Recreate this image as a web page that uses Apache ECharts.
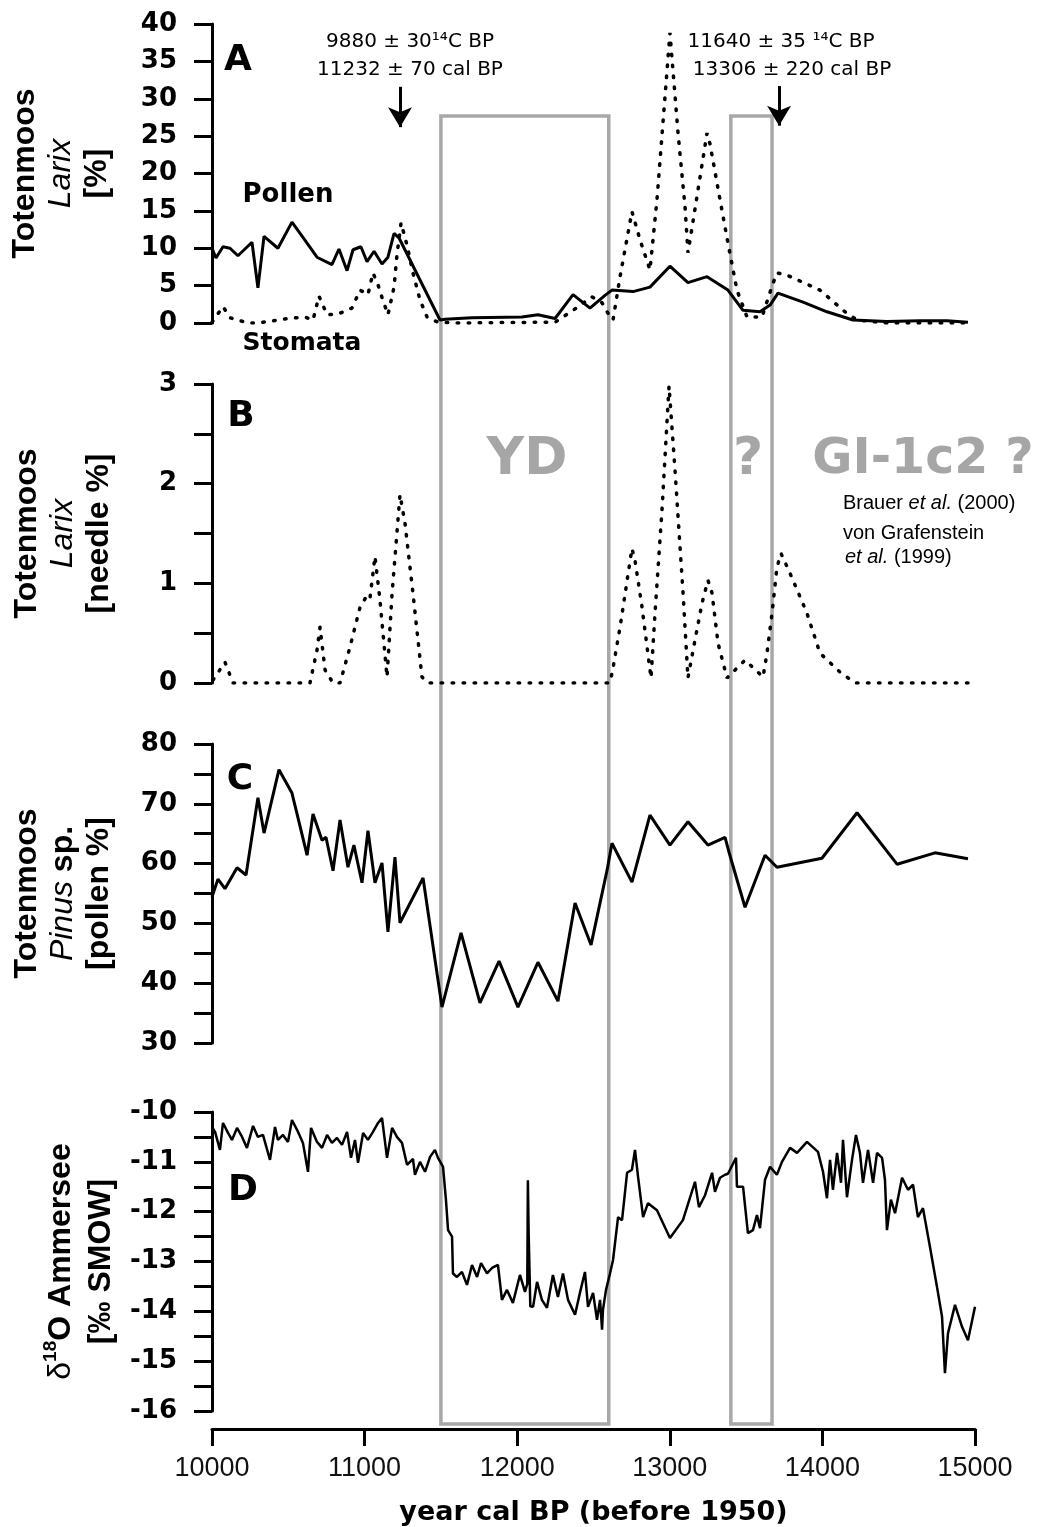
<!DOCTYPE html>
<html>
<head>
<meta charset="utf-8">
<script src="https://cdn.jsdelivr.net/npm/echarts@6/dist/echarts.min.js"></script>
<style>
  html, body { margin: 0; padding: 0; background: #fff; }
  #chart { width: 1044px; height: 1527px; }
</style>
</head>
<body>
<div id="chart"></div>
<script>
// A: Larix pollen / stomata [%]
const pollenYear = [10000,10026,10072,10118,10170,10262,10301,10341,10432,10524,10609,10688,10786,10832,10885,10924,10976,11016,11062,11114,11153,11193,11225,11494,11527,11704,12031,12136,12248,12366,12477,12575,12621,12759,12870,13001,13119,13244,13381,13480,13591,13657,13709,13873,14030,14200,14423,14639,14816,14954];
const pollenPct = [10.0,8.7,10.2,10.0,9.0,10.8,4.7,11.6,10.0,13.5,11.1,8.8,7.8,9.9,7.0,9.8,10.2,8.2,9.6,7.9,8.8,12.0,11.4,0.4,0.5,0.7,0.8,1.1,0.6,3.8,2.0,3.7,4.4,4.2,4.8,7.6,5.4,6.2,4.4,1.7,1.5,2.4,4.0,2.8,1.5,0.4,0.2,0.3,0.3,0.1];

const stomaYear = [10000,10072,10118,10236,10301,10498,10609,10662,10701,10754,10826,10917,10970,11022,11055,11088,11114,11153,11193,11212,11239,11278,11317,11363,11409,11481,11612,12136,12248,12366,12490,12556,12595,12628,12674,12752,12805,12870,12916,13001,13054,13100,13119,13146,13244,13263,13329,13381,13440,13506,13604,13676,13702,13768,13984,14148,14227,14423,14639,14954];
const stomaPct = [0.1,2.2,0.7,0.0,0.0,0.6,0.8,0.4,3.6,1.1,1.2,2.0,4.4,3.8,6.7,5.1,3.4,1.1,4.8,9.1,13.4,10.4,6.7,3.1,0.8,0.1,0.0,0.1,0.1,1.7,3.5,2.7,1.3,0.4,6.2,14.9,11.1,7.1,16.5,38.8,25.4,15.5,9.4,12.8,25.4,24.0,16.5,10.7,4.4,0.8,0.8,5.3,6.7,6.4,4.4,1.5,0.4,0.0,0.0,0.0];

// B: Larix needles
const needleYear = [10007,10085,10138,10642,10688,10708,10741,10793,10839,10904,10970,11016,11035,11068,11101,11147,11180,11232,11265,11317,11376,11415,12608,12628,12674,12752,12772,12818,12877,12903,12949,12995,13034,13087,13119,13165,13211,13250,13277,13316,13375,13493,13611,13637,13670,13702,13729,13788,13899,13984,14115,14214,14954];
const needlePct = [0.03,0.21,0,0,0.33,0.56,0.13,0,0,0.36,0.76,0.88,0.85,1.27,0.83,0.06,0.9,1.89,1.6,0.9,0.06,0,0,0.15,0.56,1.35,1.23,0.76,0.05,0.7,1.74,2.98,2.14,0.9,0.05,0.43,0.8,1.03,0.9,0.4,0.05,0.23,0.06,0.3,0.7,1.16,1.3,1.1,0.7,0.3,0.11,0,0];

// C: Pinus pollen
const pinusYear = [10000,10039,10085,10164,10223,10301,10341,10439,10524,10623,10662,10721,10747,10793,10839,10891,10930,10983,11022,11068,11114,11153,11199,11232,11383,11507,11632,11756,11881,12005,12136,12267,12379,12484,12589,12621,12752,12870,13001,13119,13250,13362,13388,13493,13624,13702,13997,14227,14489,14738,14954];
const pinusPct = [54.4,57.4,55.8,59.3,58.1,71.0,65.1,75.7,71.8,61.4,68.3,63.9,64.4,58.8,67.3,59.4,63.1,56.8,65.5,56.8,60.1,48.6,61.1,50.1,57.6,36.0,48.4,36.7,43.7,36.0,43.5,37.0,53.4,46.4,58.9,63.4,56.9,68.1,63.1,67.0,63.1,64.4,61.9,52.7,61.4,59.4,60.9,68.5,59.9,61.8,60.8];

// D: d18O Ammersee
const d18Year = [10000,10020,10052,10072,10105,10131,10164,10197,10229,10269,10301,10334,10380,10413,10432,10465,10498,10524,10564,10596,10629,10649,10688,10721,10754,10786,10819,10852,10885,10911,10937,10957,10990,11022,11055,11088,11114,11147,11180,11212,11245,11278,11317,11330,11363,11396,11429,11461,11481,11514,11533,11547,11573,11579,11605,11638,11671,11704,11737,11763,11802,11835,11874,11900,11933,11972,12018,12051,12066,12070,12075,12080,12086,12104,12130,12162,12195,12234,12267,12300,12333,12379,12411,12444,12464,12497,12523,12543,12556,12562,12582,12608,12628,12661,12687,12720,12752,12772,12792,12825,12857,12916,13001,13086,13165,13191,13231,13277,13296,13329,13362,13381,13434,13440,13480,13512,13545,13571,13591,13624,13657,13702,13735,13788,13834,13899,13971,14004,14030,14050,14069,14096,14122,14135,14161,14194,14220,14246,14266,14299,14332,14358,14391,14410,14423,14449,14476,14522,14561,14594,14626,14659,14705,14751,14784,14803,14823,14869,14915,14954,15000];
const d18O = [-10.30,-10.40,-10.76,-10.22,-10.42,-10.56,-10.32,-10.50,-10.72,-10.28,-10.50,-10.46,-10.96,-10.30,-10.56,-10.46,-10.60,-10.16,-10.40,-10.62,-11.20,-10.32,-10.60,-10.72,-10.46,-10.62,-10.52,-10.66,-10.40,-10.92,-10.56,-11.02,-10.42,-10.56,-10.40,-10.22,-10.12,-10.92,-10.32,-10.50,-10.62,-11.06,-10.94,-11.26,-11.00,-11.20,-10.90,-10.76,-10.92,-11.10,-11.76,-12.37,-12.50,-13.24,-13.31,-13.21,-13.47,-13.07,-13.31,-13.03,-13.24,-13.13,-13.07,-13.77,-13.57,-13.83,-13.27,-13.61,-13.45,-11.37,-12.43,-12.40,-13.90,-13.91,-13.41,-13.77,-13.93,-13.27,-13.71,-13.24,-13.77,-14.07,-13.63,-13.21,-13.91,-13.63,-14.17,-13.77,-14.37,-13.97,-13.57,-13.24,-12.97,-12.11,-12.17,-11.22,-11.16,-10.76,-11.30,-12.11,-11.83,-11.97,-12.53,-12.17,-11.40,-11.91,-11.67,-11.22,-11.60,-11.32,-11.26,-11.24,-10.92,-11.50,-11.50,-12.43,-12.37,-12.07,-12.33,-11.36,-11.10,-11.26,-11.00,-10.72,-10.82,-10.60,-10.80,-11.20,-11.73,-10.96,-11.56,-10.82,-11.42,-10.56,-11.71,-10.96,-10.46,-10.82,-11.42,-10.76,-11.42,-10.82,-10.92,-11.36,-12.37,-11.76,-12.03,-11.32,-11.56,-11.46,-12.11,-11.93,-12.71,-13.51,-14.11,-15.24,-14.44,-13.87,-14.31,-14.58,-13.91];

// shaded intervals (YD and "?") and dated levels
const boxStart = [11500, 13400];
const boxEnd = [12600, 13670];
const arrowYear = [11232, 13716];
const arrowTop = [31.6, 31.7];
const arrowTip = [26.2, 26.4];

const zip = (xs, ys) => xs.map((x, i) => [x, ys[i]]);

const chart = echarts.init(document.getElementById('chart'));

const LEFT = 212, WIDTH = 763;
const tickFont = { fontFamily: 'DejaVu Sans', fontWeight: 'bold', fontSize: 26, color: '#000' };
const nameRich = {
  b: { fontFamily: 'Liberation Sans', fontWeight: 'bold', fontSize: 32, lineHeight: 36, color: '#000' },
  i: { fontFamily: 'Liberation Sans', fontStyle: 'italic', fontWeight: 'normal', fontSize: 32, lineHeight: 36, color: '#000' },
  g: { fontFamily: 'Liberation Sans', fontWeight: 'normal', fontSize: 32, lineHeight: 40, color: '#000' },
  d: { fontFamily: 'Liberation Sans', fontWeight: 'bold', fontSize: 32, lineHeight: 40, color: '#000' },
  sup: { fontFamily: 'Liberation Sans', fontWeight: 'bold', fontSize: 19, lineHeight: 40, verticalAlign: 'top', color: '#000' }
};

function yAx(gi, min, max, interval, minor, name, gap) {
  return {
    gridIndex: gi, type: 'value', min: min, max: max, interval: interval,
    name: name, nameLocation: 'middle', nameRotate: 90, nameGap: gap,
    nameTextStyle: { rich: nameRich },
    axisLine: { show: true, lineStyle: { color: '#000', width: 3 } },
    axisTick: { show: true, inside: false, length: 18, lineStyle: { color: '#000', width: 3 } },
    minorTick: { show: minor, splitNumber: 2, length: 18, lineStyle: { color: '#000', width: 3 } },
    axisLabel: Object.assign({ margin: 35 }, tickFont),
    splitLine: { show: false }
  };
}

const xAxes = [0, 1, 2, 3, 4].map(i => ({
  gridIndex: i, type: 'value', min: 10000, max: 15000, interval: 1000,
  show: i === 3,
  offset: i === 3 ? 18 : 0,
  name: i === 3 ? 'year cal BP (before 1950)' : '',
  nameLocation: 'middle', nameGap: 70,
  nameTextStyle: { fontFamily: 'DejaVu Sans', fontWeight: 'bold', fontSize: 27, color: '#000' },
  axisLine: { show: true, onZero: false, lineStyle: { color: '#000', width: 3 } },
  axisTick: { show: true, length: 17, lineStyle: { color: '#000', width: 3 } },
  axisLabel: { margin: 26, fontFamily: 'Liberation Sans', fontSize: 27, color: '#111', formatter: v => String(v) },
  splitLine: { show: false }
}));

const yAxes = [
  yAx(0, 0, 40, 5, false, '{b|Totenmoos}\n{i|Larix}\n{b|[%]}', 97),
  yAx(1, 0, 3, 1, true, '{b|Totenmoos}\n{i|Larix}\n{b|[needle %]}', 95),
  yAx(2, 30, 80, 10, true, '{b|Totenmoos}\n{i|Pinus}{b| sp.}\n{b|[pollen %]}', 95),
  yAx(3, -16, -10, 1, true, '{g|δ}{sup|18}{d|O Ammersee}\n{d|[‰ SMOW]}', 91),
  { gridIndex: 4, type: 'value', min: 0, max: 1, show: false }
];

const solid = (w) => ({ color: '#000', width: w });
const dotted = { color: '#000', width: 3.5, type: [1.5, 9.5], cap: 'round' };

const option = {
  animation: false,
  backgroundColor: '#fff',
  grid: [
    { left: LEFT, width: WIDTH, top: 24, height: 299 },
    { left: LEFT, width: WIDTH, top: 384, height: 299 },
    { left: LEFT, width: WIDTH, top: 744, height: 299 },
    { left: LEFT, width: WIDTH, top: 1112, height: 299 },
    { left: LEFT, width: WIDTH, top: 116, height: 1308 }
  ],
  xAxis: xAxes,
  yAxis: yAxes,
  series: [
    {
      name: 'boxes', type: 'line', xAxisIndex: 4, yAxisIndex: 4, data: [], z: 1,
      markArea: {
        silent: true,
        itemStyle: { color: 'rgba(0,0,0,0)', borderColor: '#a8a8a8', borderWidth: 3.5 },
        data: boxStart.map((s, i) => [{ xAxis: s }, { xAxis: boxEnd[i] }])
      }
    },
    {
      name: 'Stomata', type: 'line', xAxisIndex: 0, yAxisIndex: 0, showSymbol: false,
      data: zip(stomaYear, stomaPct), lineStyle: dotted, z: 3
    },
    {
      name: 'Pollen', type: 'line', xAxisIndex: 0, yAxisIndex: 0, showSymbol: false,
      data: zip(pollenYear, pollenPct), lineStyle: solid(3), z: 4,
      markLine: {
        silent: true,
        symbol: ['none', 'arrow'], symbolSize: [18, 20],
        lineStyle: { color: '#000', width: 3, type: 'solid' },
        label: { show: false },
        data: arrowYear.map((x, i) => [{ coord: [x, arrowTop[i]] }, { coord: [x, arrowTip[i]] }])
      }
    },
    {
      name: 'Needles', type: 'line', xAxisIndex: 1, yAxisIndex: 1, showSymbol: false,
      data: zip(needleYear, needlePct), lineStyle: dotted, z: 3
    },
    {
      name: 'Pinus', type: 'line', xAxisIndex: 2, yAxisIndex: 2, showSymbol: false,
      data: zip(pinusYear, pinusPct), lineStyle: solid(3), z: 3
    },
    {
      name: 'd18O', type: 'line', xAxisIndex: 3, yAxisIndex: 3, showSymbol: false,
      data: zip(d18Year, d18O), lineStyle: solid(2.5), z: 3
    }
  ],
  graphic: [
    // panel letters
    { type: 'text', x: 238, y: 61, style: { text: 'A', font: 'bold 36px "DejaVu Sans"', fill: '#000', align: 'center', verticalAlign: 'middle' } },
    { type: 'text', x: 241, y: 417, style: { text: 'B', font: 'bold 36px "DejaVu Sans"', fill: '#000', align: 'center', verticalAlign: 'middle' } },
    { type: 'text', x: 240, y: 780, style: { text: 'C', font: 'bold 36px "DejaVu Sans"', fill: '#000', align: 'center', verticalAlign: 'middle' } },
    { type: 'text', x: 243, y: 1191, style: { text: 'D', font: 'bold 36px "DejaVu Sans"', fill: '#000', align: 'center', verticalAlign: 'middle' } },
    // curve labels
    { type: 'text', x: 288, y: 195, style: { text: 'Pollen', font: 'bold 26px "DejaVu Sans"', fill: '#000', align: 'center', verticalAlign: 'middle' } },
    { type: 'text', x: 302, y: 343, style: { text: 'Stomata', font: 'bold 25px "DejaVu Sans"', fill: '#000', align: 'center', verticalAlign: 'middle' } },
    // dates
    { type: 'text', x: 410, y: 42, style: { text: '9880 ± 30¹⁴C BP', font: '20px "DejaVu Sans"', fill: '#000', align: 'center', verticalAlign: 'middle' } },
    { type: 'text', x: 410, y: 70, style: { text: '11232 ± 70 cal BP', font: '20px "DejaVu Sans"', fill: '#000', align: 'center', verticalAlign: 'middle' } },
    { type: 'text', x: 781, y: 42, style: { text: '11640 ± 35 ¹⁴C BP', font: '20px "DejaVu Sans"', fill: '#000', align: 'center', verticalAlign: 'middle' } },
    { type: 'text', x: 792, y: 70, style: { text: '13306 ± 220 cal BP', font: '20px "DejaVu Sans"', fill: '#000', align: 'center', verticalAlign: 'middle' } },
    // interval names
    { type: 'text', x: 527, y: 460, style: { text: 'YD', font: 'bold 52px "DejaVu Sans"', fill: '#a6a6a6', align: 'center', verticalAlign: 'middle' } },
    { type: 'text', x: 748, y: 460, style: { text: '?', font: 'bold 52px "DejaVu Sans"', fill: '#a6a6a6', align: 'center', verticalAlign: 'middle' } },
    { type: 'text', x: 923, y: 460, style: { text: 'GI-1c2 ?', font: 'bold 49px "DejaVu Sans"', fill: '#a6a6a6', align: 'center', verticalAlign: 'middle' } },
    // references
    { type: 'text', x: 843, y: 503, style: {
      text: '{r|Brauer }{it|et al.}{r| (2000)}', align: 'left', verticalAlign: 'middle', fill: '#000',
      rich: { r: { font: '20px "Liberation Sans"' }, it: { font: 'italic 20px "Liberation Sans"' } } } },
    { type: 'text', x: 843, y: 533, style: { text: 'von Grafenstein', font: '20px "Liberation Sans"', fill: '#000', align: 'left', verticalAlign: 'middle' } },
    { type: 'text', x: 845, y: 557, style: {
      text: '{it|et al.}{r| (1999)}', align: 'left', verticalAlign: 'middle', fill: '#000',
      rich: { r: { font: '20px "Liberation Sans"' }, it: { font: 'italic 20px "Liberation Sans"' } } } }
  ]
};

chart.setOption(option);
</script>
</body>
</html>
